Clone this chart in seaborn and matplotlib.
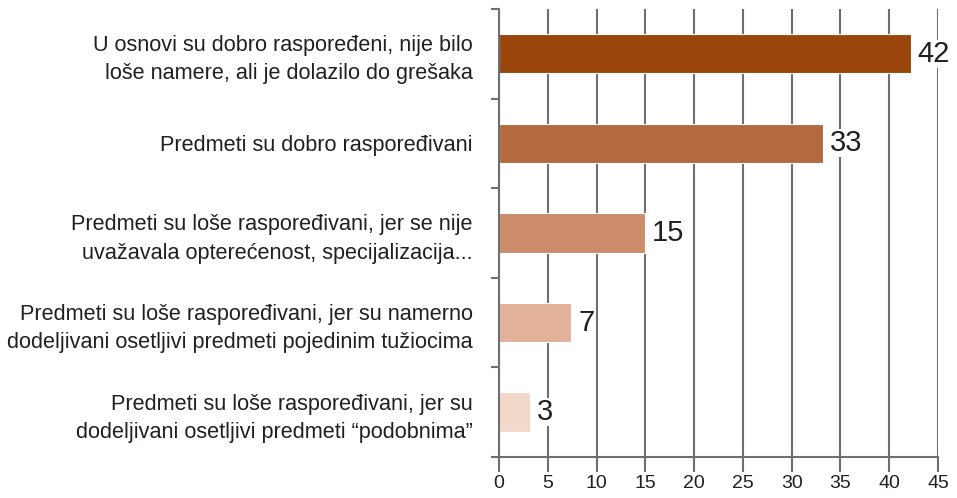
import matplotlib
matplotlib.use("Agg")
import matplotlib.pyplot as plt
import seaborn as sns
import pandas as pd
from matplotlib.ticker import FixedLocator

categories = [
    "U osnovi su dobro raspoređeni, nije bilo\nloše namere, ali je dolazilo do grešaka",
    "Predmeti su dobro raspoređivani",
    "Predmeti su loše raspoređivani, jer se nije\nuvažavala opterećenost, specijalizacija...",
    "Predmeti su loše raspoređivani, jer su namerno\ndodeljivani osetljivi predmeti pojedinim tužiocima",
    "Predmeti su loše raspoređivani, jer su\ndodeljivani osetljivi predmeti “podobnima”",
]
values = [42.2, 33.2, 15.0, 7.4, 3.2]
value_labels = ["42", "33", "15", "7", "3"]
colors = ["#9A450C", "#B46A40", "#CC8B69", "#E1B199", "#F2D8CB"]
x_ticks = [0, 5, 10, 15, 20, 25, 30, 35, 40, 45]

sns.set_style("white")
plt.rcParams["font.family"] = ["Liberation Sans", "DejaVu Sans"]

df = pd.DataFrame({"cat": categories, "val": values})

fig = plt.figure(figsize=(9.57, 4.98), dpi=100)
ax = fig.add_axes([0.5214, 0.0823, 0.4587, 0.8997])

grid_c = "#6E6E73"
ax.set_axisbelow(True)
ax.xaxis.grid(True, color=grid_c, linewidth=1.5)

sns.barplot(data=df, x="val", y="cat", hue="cat", palette=colors, legend=False,
            orient="h", width=0.44, edgecolor="white", linewidth=0.8,
            saturation=1, ax=ax)

for i, (v, lab) in enumerate(zip(values, value_labels)):
    ax.annotate(lab, xy=(v, i), xytext=(5, 0), textcoords="offset points",
                va="center", ha="left", fontsize=21, color="#231F20",
                bbox=dict(boxstyle="square,pad=0", fc="white", ec="none"))

ax.set_xlim(0, 45)
ax.set_ylim(4.5, -0.5)
ax.xaxis.set_major_locator(FixedLocator(x_ticks))
ax.set_xticklabels([str(t) for t in x_ticks])
ax.yaxis.set_minor_locator(FixedLocator([-0.5, 0.5, 1.5, 2.5, 3.5, 4.5]))
ax.tick_params(axis="y", which="major", length=0, pad=19, labelsize=15.6, labelcolor="#231F20")
ax.tick_params(axis="y", which="minor", length=6, width=1.5, color=grid_c, left=True)
ax.tick_params(axis="x", which="major", length=11, width=1.5, color=grid_c, bottom=True,
               pad=2, labelsize=14, labelcolor="#231F20")
for lbl in ax.get_yticklabels():
    lbl.set_horizontalalignment("right")
    lbl.set_multialignment("right")
    lbl.set_linespacing(1.45)

ax.set_xlabel("")
ax.set_ylabel("")
for s in ["top", "right"]:
    ax.spines[s].set_visible(False)
for s in ["left", "bottom"]:
    ax.spines[s].set_color(grid_c)
    ax.spines[s].set_linewidth(1.5)

fig.savefig("out.png", dpi=100)
